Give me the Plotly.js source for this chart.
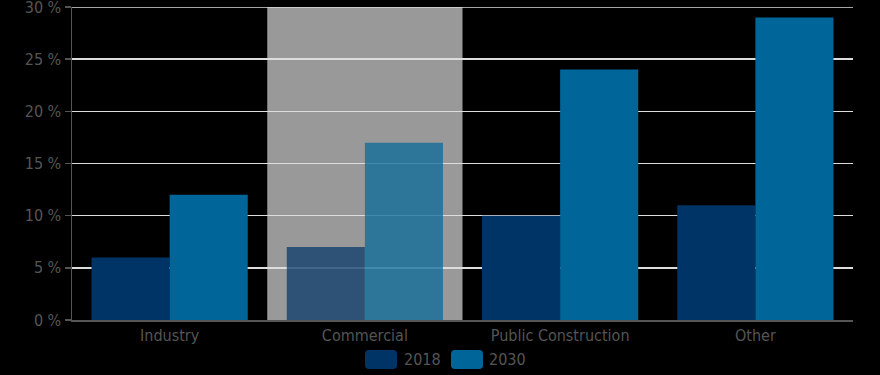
<!DOCTYPE html>
<html>
<head>
<meta charset="utf-8">
<script src="https://cdn.plot.ly/plotly-3.0.1.min.js"></script>
<style>html,body{margin:0;padding:0;background:#000;}#chart{width:880px;height:375px;}</style>
</head>
<body>
<div id="chart"></div>
<script>
const categories = ["Industry", "Commercial", "Public Construction", "Other"];
const seriesNames = ["2018", "2030"];
const values2018 = [6, 7, 10, 11];
const values2030 = [12, 17, 24, 29];
const yTicks = [0, 5, 10, 15, 20, 25, 30];
const yTickText = yTicks.map(v => v + ' %');
const highlighted = "Commercial";
const colors = ['#003366', '#006699'];

const fontFam = '"DejaVu Sans Condensed", "Liberation Sans Narrow", sans-serif';
const textColor = '#555555';
const gridColor = '#dddddd';
const opac = categories.map(c => c === highlighted ? 0.7 : 1);

const traces = [
  {type: 'bar', name: seriesNames[0], x: categories, y: values2018,
   marker: {color: colors[0], opacity: opac, line: {width: 0}}, hoverinfo: 'none'},
  {type: 'bar', name: seriesNames[1], x: categories, y: values2030,
   marker: {color: colors[1], opacity: opac, line: {width: 0}}, hoverinfo: 'none'}
];

function roundedRect(x0, x1, y0, y1, r) {
  return `M${x0 + r},${y0} L${x1 - r},${y0} Q${x1},${y0} ${x1},${y0 + r} L${x1},${y1 - r} Q${x1},${y1} ${x1 - r},${y1} L${x0 + r},${y1} Q${x0},${y1} ${x0},${y1 - r} L${x0},${y0 + r} Q${x0},${y0} ${x0 + r},${y0} Z`;
}

const idx = categories.indexOf(highlighted);
const legendSwatchX = [[-97.5, -65.5], [-11.5, 20.5]];
const legendTextX = [-60.5, 24.5];
const yMax = yTicks[yTicks.length - 1];

const shapes = [{
  type: 'rect', layer: 'below', xref: 'x', yref: 'paper',
  x0: idx - 0.5, x1: idx + 0.5, y0: 0, y1: 1,
  fillcolor: '#999999', line: {width: 0}
}, {
  type: 'line', layer: 'below', xref: 'paper', yref: 'y',
  x0: 0, x1: 1, y0: yMax, y1: yMax,
  line: {color: gridColor, width: 1.5}
}];
const annotations = [];
seriesNames.forEach((n, i) => {
  shapes.push({
    type: 'path', xref: 'paper', yref: 'paper', xsizemode: 'pixel', ysizemode: 'pixel',
    xanchor: 0.5, yanchor: 0,
    path: roundedRect(legendSwatchX[i][0], legendSwatchX[i][1], -49, -30, 4),
    fillcolor: colors[i], line: {width: 0}
  });
  annotations.push({
    xref: 'paper', yref: 'paper', x: 0.5, y: 0, xshift: legendTextX[i], yshift: -39,
    xanchor: 'left', yanchor: 'middle', showarrow: false, text: n,
    font: {family: fontFam, size: 16, color: textColor}
  });
});

const layout = {
  width: 880, height: 375,
  paper_bgcolor: '#000', plot_bgcolor: '#000',
  margin: {l: 72, r: 27, t: 7, b: 55},
  barmode: 'group', bargap: 0.2, bargroupgap: 0,
  font: {family: fontFam, size: 16, color: textColor},
  xaxis: {
    type: 'category', showgrid: false, showline: true, linecolor: '#555', linewidth: 1.5,
    ticks: '', tickfont: {family: fontFam, size: 16, color: textColor}, zeroline: false
  },
  yaxis: {
    range: [0, yMax], tickmode: 'array', tickvals: yTicks, ticktext: yTickText,
    ticklabeloverflow: 'allow', automargin: false,
    showgrid: true, gridcolor: gridColor, gridwidth: 1.5,
    showline: true, linecolor: '#555', linewidth: 1.5,
    ticks: 'outside', ticklen: 6, tickcolor: '#555', tickwidth: 1.5,
    tickfont: {family: fontFam, size: 16, color: textColor}, zeroline: false
  },
  shapes: shapes,
  annotations: annotations,
  showlegend: false
};

Plotly.newPlot('chart', traces, layout, {displayModeBar: false, staticPlot: true});
</script>
</body>
</html>
